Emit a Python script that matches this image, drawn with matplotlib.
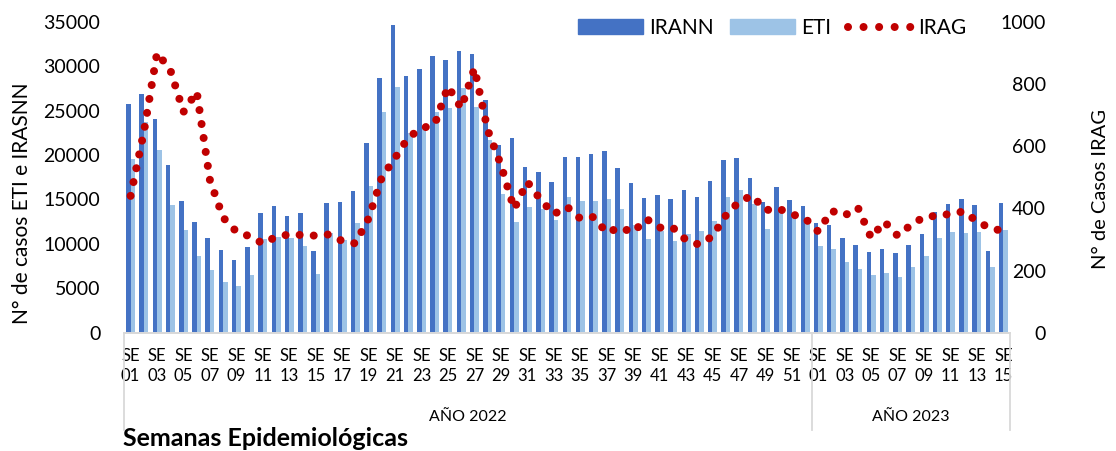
import numpy as np
import matplotlib
matplotlib.use("Agg")
import matplotlib.pyplot as plt
from matplotlib.patches import Patch
from matplotlib.lines import Line2D

plt.rcParams['font.family'] = ['Lato', 'DejaVu Sans']

# semanas epidemiologicas: 2022 (SE01-SE52) + 2023 (SE01-SE15)
weeks_2022 = [f"{i:02d}" for i in range(1, 53)]
weeks_2023 = [f"{i:02d}" for i in range(1, 16)]
weeks = weeks_2022 + weeks_2023

irann = [25730, 26835, 24060, 18880, 14870, 12500, 10620, 9270, 8150, 9685,
         13440, 14230, 13180, 13440, 9200, 14600, 14750, 15960, 21320, 28640,
         34640, 28870, 29650, 31150, 30660, 31710, 31340, 26200, 21130, 21890,
         18690, 18060, 16930, 19790, 19790, 20080, 20460, 18580, 16820, 15200,
         15470, 15050, 16070, 15280, 17080, 19440, 19670, 17380, 14710, 16370,
         14940, 14265,
         12350, 12120, 10700, 9910, 9090, 9420, 8940, 9840, 11110, 13580,
         14490, 15050, 14410, 9200, 14560]

eti = [19590, 23710, 20570, 14380, 11560, 8630, 7060, 5750, 5260, 6490,
       10550, 10810, 10620, 9800, 6610, 11190, 10440, 12380, 16510, 24815,
       27620, 22450, 23010, 24800, 25260, 27510, 25450, 21690, 15610, 12500,
       14120, 13900, 12680, 15240, 14870, 14830, 15050, 13930, 12100, 10600,
       11450, 10320, 11110, 11450, 12570, 15280, 16100, 14450, 11670, 13930,
       13060, 12500,
       9760, 9460, 7960, 7170, 6490, 6730, 6270, 7430, 8590, 10700,
       11340, 11260, 11340, 7430, 11520]

irag = [440, 645, 900, 845, 710, 775, 490, 370, 325, 310,
        287, 308, 316, 314, 312, 316, 295, 287, 368, 500,
        562, 628, 657, 670, 792, 722, 850, 652, 540, 398,
        485, 428, 381, 405, 367, 372, 322, 338, 323, 366,
        338, 338, 298, 283, 310, 376, 421, 441, 394, 399,
        381, 368,
        325, 392, 377, 402, 305, 357, 312, 346, 372, 376,
        382, 390, 358, 336, 327]

DARK = "#4472C4"
LIGHT = "#9DC3E6"
RED = "#C00000"
GRIS = "#D9D9D9"

W, H = 1116, 451
fig = plt.figure(figsize=(W / 100, H / 100), dpi=100)
ax = fig.add_axes([124 / W, 1 - 332.7 / H, 886 / W, 311 / H])
ax2 = ax.twinx()

x = np.arange(len(weeks))
bw = 0.34
ax.bar(x - bw / 2, irann, width=bw, color=DARK, label="IRANN")
ax.bar(x + bw / 2, eti, width=bw, color=LIGHT, label="ETI")

ax2.plot(x, irag, color=RED, linewidth=5.8, linestyle=(0, (0.001, 1.75)),
         dash_capstyle='round', label="IRAG")

ax.set_xlim(-0.5, len(weeks) - 0.5)
ax.set_ylim(0, 35000)
ax2.set_ylim(0, 1000)
ax.set_yticks(range(0, 35001, 5000))
ax2.set_yticks(range(0, 1001, 200))

# solo semanas impares como etiqueta
ax.set_xticks(x[::2])
ax.set_xticklabels([f"SE\n{w}" for w in weeks[::2]], fontsize=12, linespacing=1.3)
ax.tick_params(axis='x', length=0, pad=11, colors='#000000')
ax.tick_params(axis='y', length=0, pad=17, labelsize=14)
ax2.tick_params(axis='y', length=0, pad=26, labelsize=14)
for lab in ax2.get_yticklabels():
    lab.set_ha('right')

for a in (ax, ax2):
    for s in ('top', 'left', 'right'):
        a.spines[s].set_visible(False)
    a.spines['bottom'].set_color(GRIS)
    a.spines['bottom'].set_linewidth(1.3)

# divisiones por año
trans = ax.get_xaxis_transform()
n22 = len(weeks_2022)
for xv in (-0.5, n22 - 0.5, len(weeks) - 0.5):
    ax.plot([xv, xv], [0, -0.313], transform=trans, color=GRIS, lw=1.3, clip_on=False)
ax.text((n22 - 1) / 2, -0.271, "AÑO 2022", transform=trans, ha='center', va='center', fontsize=11.5)
ax.text(n22 + (len(weeks_2023) - 1) / 2, -0.271, "AÑO 2023", transform=trans,
        ha='center', va='center', fontsize=11.5)

fig.text(123 / W, 1 - 438 / H, "Semanas Epidemiológicas", fontsize=18, fontweight='bold',
         ha='left', va='center')
fig.text(22 / W, 1 - 203 / H, "N° de casos ETI e IRASNN", fontsize=15, rotation=90,
         ha='center', va='center')
fig.text(1100 / W, 1 - 189 / H, "N° de Casos IRAG", fontsize=14.5, rotation=90,
         ha='center', va='center')

handles = [Patch(color=DARK), Patch(color=LIGHT),
           Line2D([], [], color=RED, linewidth=5.8, linestyle=(0, (0.001, 1.93)),
                  dash_capstyle='round')]
fig.legend(handles, ["IRANN", "ETI", "IRAG"], loc='upper left',
           bbox_to_anchor=(578 / W, 1 - 18 / H), ncol=3, frameon=False, fontsize=15,
           borderpad=0, borderaxespad=0, handlelength=3.1, handleheight=0.75,
           handletextpad=0.3, columnspacing=0.8)

fig.savefig("out.png", dpi=100)
